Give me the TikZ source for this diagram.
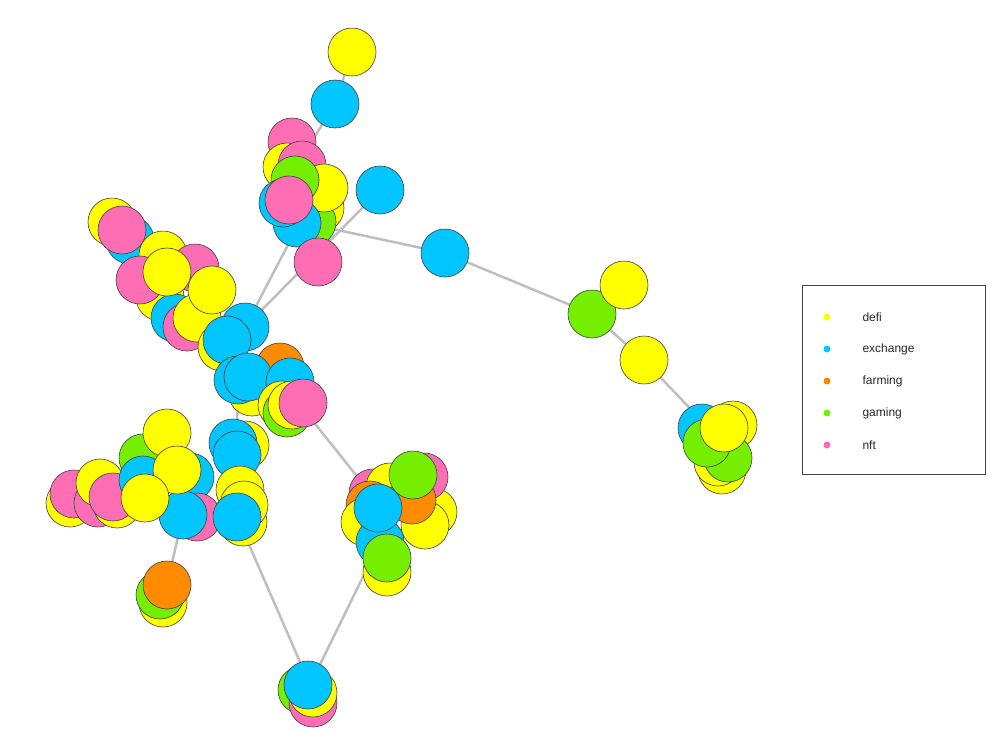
\documentclass[tikz,border=0pt]{standalone}
\usepackage{fontspec}
\setmainfont{Liberation Sans}
\definecolor{cdefi}{RGB}{255,255,0}
\definecolor{cexch}{RGB}{0,197,255}
\definecolor{cfarm}{RGB}{255,140,0}
\definecolor{cgam}{RGB}{118,238,0}
\definecolor{cnft}{RGB}{255,110,180}
\definecolor{cedge}{RGB}{190,190,190}
\tikzset{
  v/.style={circle,minimum size=48pt,inner sep=0pt,draw=black!75,line width=0.6pt},
  D/.style={v,fill=cdefi}, E/.style={v,fill=cexch}, F/.style={v,fill=cfarm},
  G/.style={v,fill=cgam}, N/.style={v,fill=cnft},
  edge/.style={draw=cedge,line width=2.5pt},
  dot/.style={circle,minimum size=7pt,inner sep=0pt},
  lab/.style={anchor=west,font=\fontsize{12}{14}\selectfont,text=black!85}
}
\begin{document}
\begin{tikzpicture}[x=1pt,y=-1pt]
\useasboundingbox (0,0) rectangle (1005,742);
% ---- coordinates for edge ends
\coordinate (a1) at (352,52);
\coordinate (a2) at (335,104);
\coordinate (b0) at (300,160);
\coordinate (b1) at (300,222);
\coordinate (hub) at (245,327);
\coordinate (hubl) at (240,380);
\coordinate (bb) at (380,190);
\coordinate (r1) at (445,253);
\coordinate (r2) at (592,314);
\coordinate (r3) at (624,285);
\coordinate (r4) at (644,360);
\coordinate (re) at (720,440);
\coordinate (h2) at (235,445);
\coordinate (hp) at (300,405);
\coordinate (dd) at (380,505);
\coordinate (dl) at (380,542);
\coordinate (ff) at (310,685);
\coordinate (cr) at (237,517);
\coordinate (cl) at (183,515);
\coordinate (co) at (167,585);
% ---- edges
\draw[edge] (a1) -- (a2);
\draw[edge] (a2) -- (b0);
\draw[edge] (bb) -- (hub);
\draw[edge] (b1) -- (r1);
\draw[edge] (r1) -- (r2);
\draw[edge] (r2) -- (r3);
\draw[edge] (r2) -- (r4);
\draw[edge] (r4) -- (re);
\draw[edge] (b1) -- (hub);
\draw[edge] (hubl) -- (h2);
\draw[edge] (hp) -- (dd);
\draw[edge] (dl) -- (ff);
\draw[edge] (cr) -- (ff);
\draw[edge] (cl) -- (co);
% ---- top chain
\node[D] (n1) at (352,52) {};
\node[E] (n2) at (335,104) {};
% ---- cluster B
\node[D] (b01) at (320,208) {};
\node[G] (b02) at (312,222) {};
\node[N] (b03) at (292,142) {};
\node[D] (b04) at (287,167) {};
\node[N] (b05) at (302,165) {};
\node[D] (b06) at (324,188) {};
\node[G] (b07) at (295,180) {};
\node[E] (b08) at (297,223) {};
\node[E] (b09) at (283,203) {};
\node[N] (b10) at (289,200) {};
\node[N] (b11) at (318,262) {};
\node[E] (b12) at (380,190) {};
% ---- right chain
\node[E] (r01) at (445,253) {};
\node[G] (r02) at (592,314) {};
\node[D] (r03) at (624,285) {};
\node[D] (r04) at (644,360) {};
% ---- cluster C (top-left)
\node[D] (c01) at (160,297) {};
\node[E] (c02) at (175,318) {};
\node[N] (c03) at (187,327) {};
\node[D] (c04) at (197,318) {};
\node[D] (c05) at (112,222) {};
\node[E] (c06) at (130,240) {};
\node[N] (c07) at (122,230) {};
\node[D] (c08) at (163,255) {};
\node[N] (c09) at (140,280) {};
\node[N] (c10) at (195,268) {};
\node[D] (c11) at (167,272) {};
\node[D] (c12) at (212,290) {};
% ---- hub
\node[D] (h01) at (222,347) {};
\node[E] (h02) at (245,327) {};
\node[E] (h03) at (227,340) {};
\node[D] (h04) at (252,392) {};
\node[F] (h05) at (280,367) {};
\node[E] (h06) at (238,380) {};
\node[E] (h07) at (248,377) {};
\node[E] (h08) at (290,382) {};
\node[D] (h09) at (282,405) {};
\node[G] (h10) at (287,413) {};
\node[D] (h11) at (292,405) {};
\node[N] (h12) at (303,403) {};
% ---- lower-left cluster
\node[D] (l01) at (70,503) {};
\node[N] (l02) at (74,494) {};
\node[N] (l03) at (98,503) {};
\node[D] (l04) at (100,483) {};
\node[D] (l05) at (117,504) {};
\node[N] (l06) at (113,497) {};
\node[G] (l07) at (143,458) {};
\node[D] (l08) at (167,433) {};
\node[E] (l09) at (190,477) {};
\node[N] (l10) at (197,517) {};
\node[E] (l11) at (183,515) {};
\node[E] (l12) at (143,480) {};
\node[D] (l13) at (177,470) {};
\node[D] (l14) at (145,498) {};
\node[D] (l15) at (245,445) {};
\node[E] (l16) at (233,443) {};
\node[E] (l17) at (237,455) {};
\node[D] (l18) at (243,522) {};
\node[D] (l19) at (240,490) {};
\node[D] (l20) at (244,505) {};
\node[E] (l21) at (237,517) {};
\node[D] (l22) at (163,603) {};
\node[G] (l23) at (160,595) {};
\node[F] (l24) at (167,585) {};
% ---- cluster D
\node[D] (d01) at (433,512) {};
\node[N] (d02) at (424,477) {};
\node[N] (d03) at (373,493) {};
\node[D] (d04) at (390,487) {};
\node[D] (d05) at (425,525) {};
\node[F] (d06) at (370,505) {};
\node[F] (d07) at (412,500) {};
\node[G] (d08) at (413,475) {};
\node[D] (d09) at (365,522) {};
\node[D] (d10) at (387,572) {};
\node[E] (d11) at (380,542) {};
\node[G] (d12) at (387,558) {};
\node[E] (d13) at (378,508) {};
% ---- cluster E (right)
\node[D] (e01) at (722,470) {};
\node[D] (e02) at (718,462) {};
\node[E] (e03) at (702,428) {};
\node[D] (e04) at (733,425) {};
\node[G] (e05) at (728,458) {};
\node[G] (e06) at (707,443) {};
\node[D] (e07) at (724,428) {};
% ---- cluster F (bottom)
\node[G] (f01) at (302,690) {};
\node[N] (f02) at (313,703) {};
\node[D] (f03) at (313,693) {};
\node[E] (f04) at (308,685) {};
% ---- legend
\draw[black!75,line width=0.8pt] (802,285) rectangle (985,474);
\node[dot,fill=cdefi] (k1) at (827,317) {};
\node[dot,fill=cexch] (k2) at (827,349) {};
\node[dot,fill=cfarm] (k3) at (827,381) {};
\node[dot,fill=cgam] (k4) at (827,413) {};
\node[dot,fill=cnft] (k5) at (827,445) {};
\node[lab] (t1) at (859,317) {defi};
\node[lab] (t2) at (859,349) {exchange};
\node[lab] (t3) at (859,381) {farming};
\node[lab] (t4) at (859,413) {gaming};
\node[lab] (t5) at (859,445) {nft};
\end{tikzpicture}
\end{document}
